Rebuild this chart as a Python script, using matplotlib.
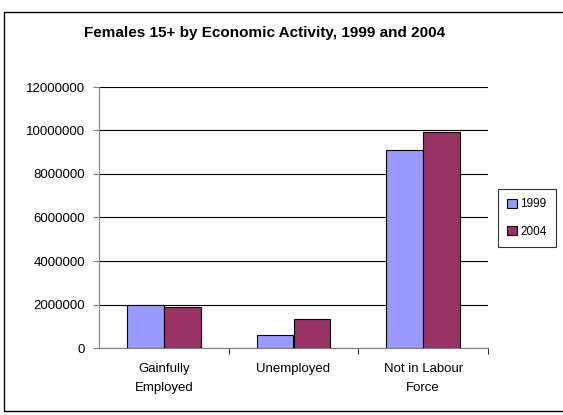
import numpy as np
import matplotlib
matplotlib.use('Agg')
import matplotlib.pyplot as plt
from matplotlib.patches import Rectangle

plt.rcParams['font.family'] = ['Liberation Sans', 'DejaVu Sans']

categories = ['Gainfully\nEmployed', 'Unemployed', 'Not in Labour\nForce']
years = ['1999', '2004']
values_1999 = [1980000, 580000, 9100000]
values_2004 = [1890000, 1350000, 9930000]
colors = ['#9999ff', '#993366']

fig = plt.figure(figsize=(5.63, 4.15), dpi=100)
W, H = 563, 415
ax = fig.add_axes([99 / W, 1 - 348 / H, (488 - 99) / W, (348 - 87) / H])

# outer chart border
fig.patches.append(Rectangle((4 / W, 0.01), 1.2, 1 - 12 / H - 0.01, transform=fig.transFigure,
                             fill=False, edgecolor='black', linewidth=1.0))

x = np.arange(len(categories))
w = 0.285
ax.bar(x - w / 2, values_1999, w, color=colors[0], edgecolor='black', linewidth=0.8, label=years[0], zorder=3)
ax.bar(x + w / 2, values_2004, w, color=colors[1], edgecolor='black', linewidth=0.8, label=years[1], zorder=3)

ax.set_xlim(-0.5, 2.5)
ax.set_ylim(0, 12000000)
ax.set_yticks(np.arange(0, 12000001, 2000000))
ax.set_yticklabels([str(v) for v in range(0, 12000001, 2000000)], fontsize=9.5)
ax.yaxis.grid(True, color='black', linewidth=0.8, zorder=0)

ax.set_xticks(x)
ax.set_xticklabels(categories, fontsize=9.5, linespacing=1.8)
ax.tick_params(axis='x', length=0, pad=11)
ax.set_xticks([0.5, 1.5, 2.5], minor=True)
ax.tick_params(axis='x', which='minor', length=4, color='black', direction='out')
ax.tick_params(axis='y', length=4, color='gray', pad=6)

for s in ['top', 'right']:
    ax.spines[s].set_visible(False)
ax.spines['left'].set_color('gray')
ax.spines['bottom'].set_color('gray')

fig.text(265 / W, 1 - 33 / H, 'Females 15+ by Economic Activity, 1999 and 2004',
         ha='center', va='center', fontsize=11, fontweight='bold')

leg = fig.legend(loc='center', bbox_to_anchor=(527 / W, 1 - 218 / H), fontsize=8.5,
                 frameon=True, fancybox=False, edgecolor='black', handlelength=0.8,
                 handleheight=0.8, handletextpad=0.3, labelspacing=1.3, borderpad=0.8)
leg.get_frame().set_linewidth(0.8)

fig.savefig('out.png', dpi=100)
